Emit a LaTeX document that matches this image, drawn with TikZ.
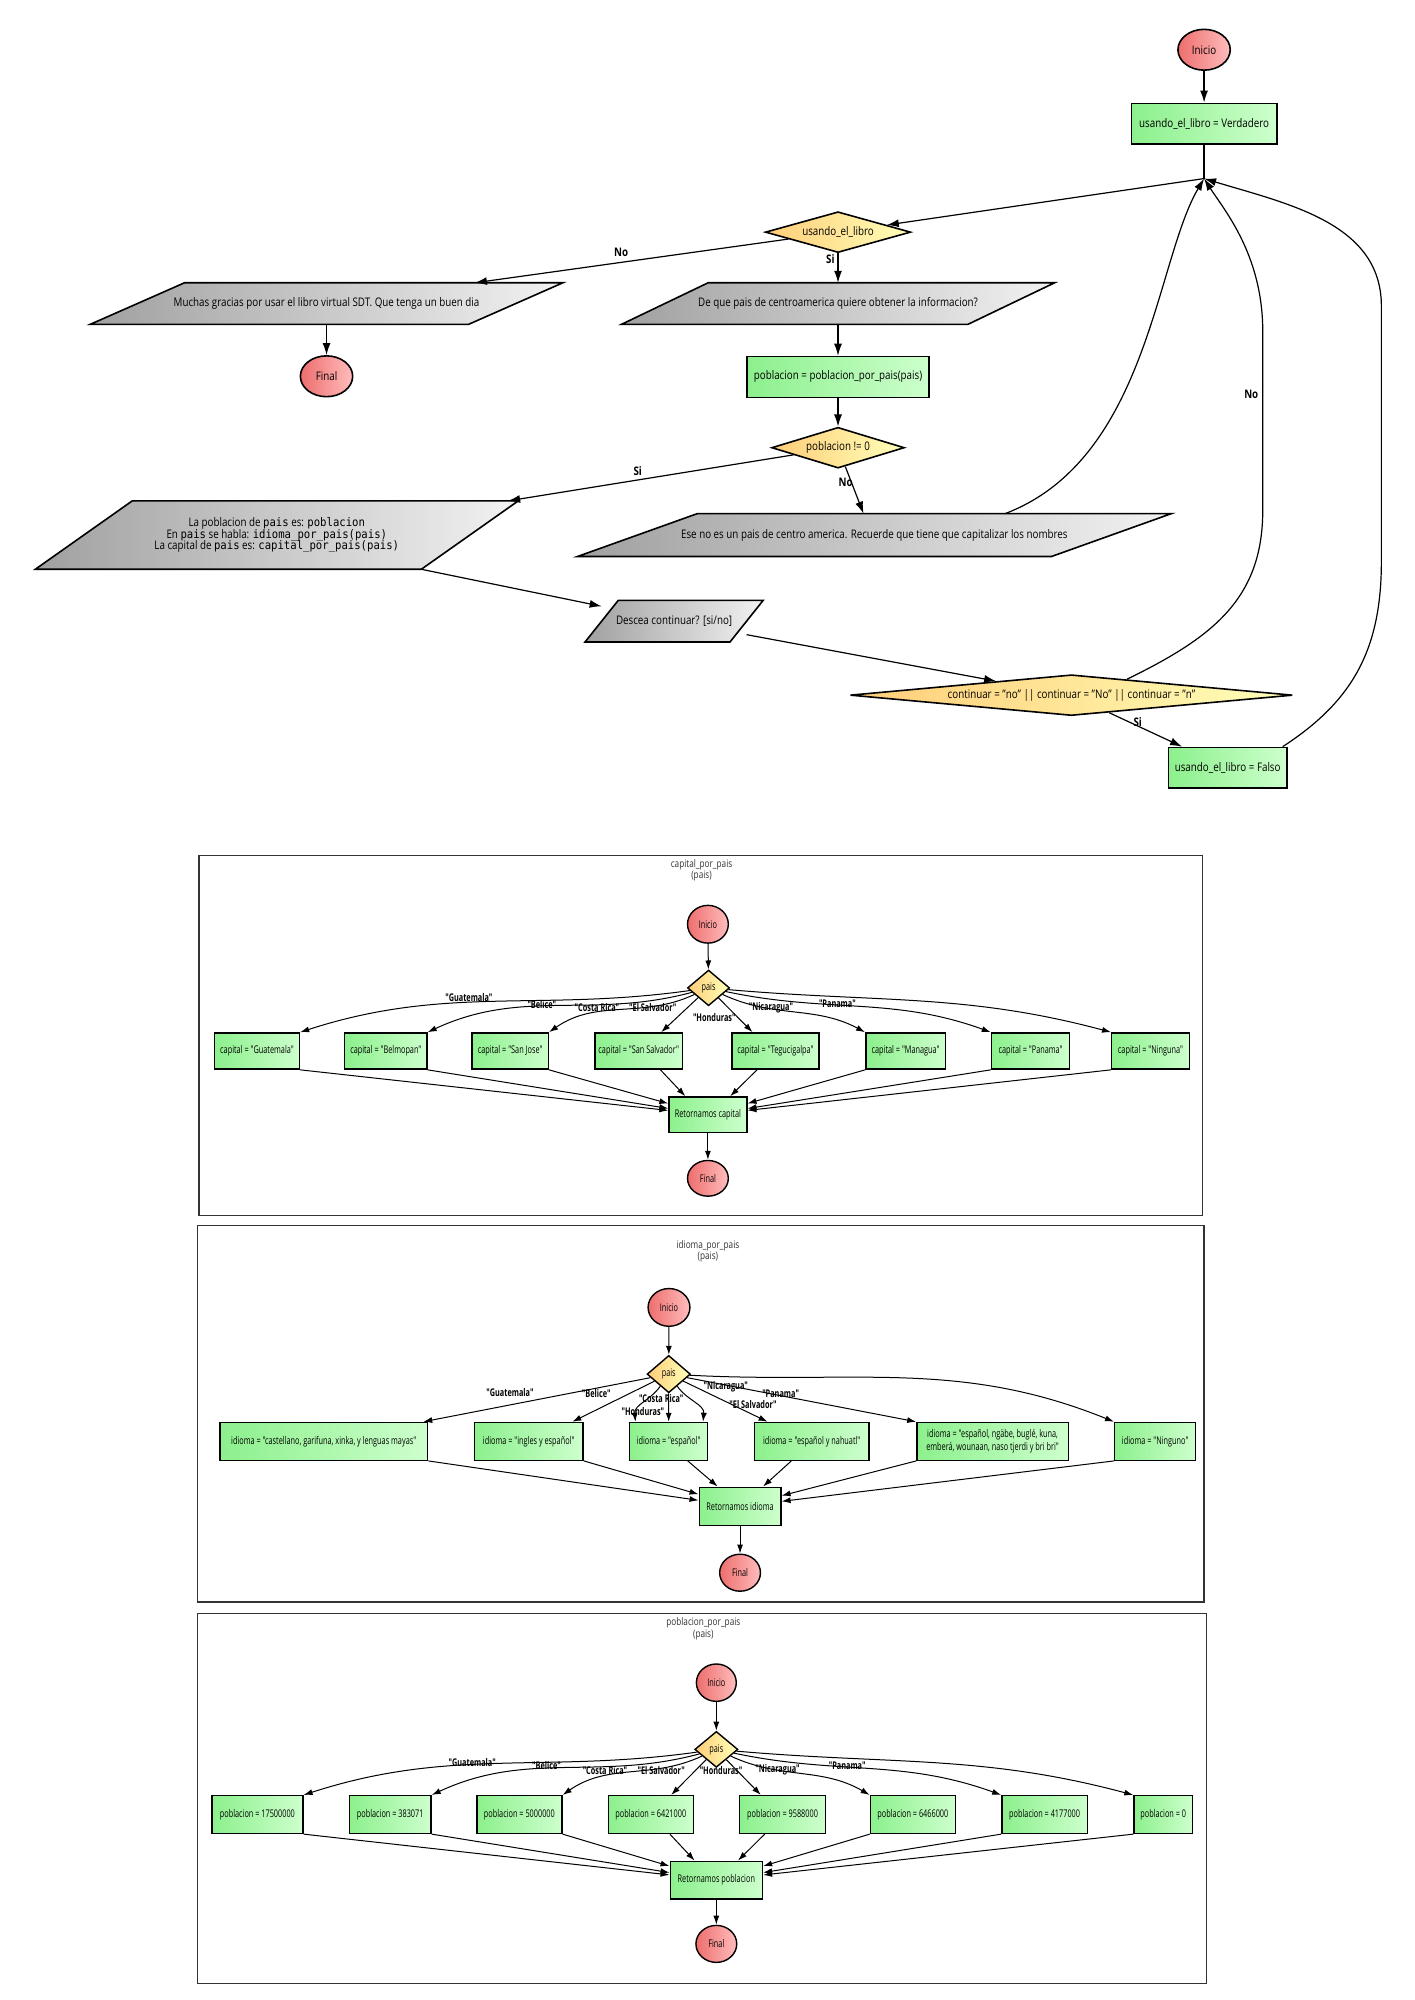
\documentclass[tikz,border=0pt]{standalone}
\usepackage{fontspec}
\setmainfont{Open Sans}[FakeStretch=0.83]
\newfontfamily\secf{Open Sans}[FakeStretch=0.69]
\newfontfamily\titf{Open Sans}[FakeStretch=0.79]
\newfontfamily\monof{DejaVu Sans Mono}[FakeStretch=0.9]
\usetikzlibrary{shapes.geometric,arrows.meta,calc}
\pgfdeclarelayer{bg}\pgfsetlayers{bg,main}
\definecolor{termL}{RGB}{238,110,110}
\definecolor{termR}{RGB}{255,188,188}
\definecolor{procL}{RGB}{140,240,140}
\definecolor{procR}{RGB}{205,255,205}
\definecolor{decL}{RGB}{255,205,120}
\definecolor{decR}{RGB}{255,255,185}
\definecolor{ioL}{RGB}{160,160,160}
\definecolor{ioR}{RGB}{242,242,242}
\newcommand{\uu}{0.6375pt}
\newcommand{\mainsz}{\fontsize{5.9pt}{5.6pt}\selectfont}
\newcommand{\secsz}{\secf\fontsize{5.3pt}{6.3pt}\selectfont}
\newcommand{\titsz}{\titf\fontsize{5.2pt}{5.7pt}\selectfont}
\newcommand{\iopoly}[2]{\begin{pgfonlayer}{bg}\shadedraw[left color=ioL,right color=ioR,draw=black,line width=0.8pt]
 ([xshift=-#2*\uu]#1.south west) -- ([xshift=-#2*\uu]#1.south east) -- ([xshift=#2*\uu]#1.north east) -- ([xshift=#2*\uu]#1.north west) -- cycle;\end{pgfonlayer}}
\tikzset{
 base/.style={draw=black,line width=0.8pt,inner sep=0pt,align=center},
 term/.style={base,ellipse,left color=termL,right color=termR},
 proc/.style={base,rectangle,left color=procL,right color=procR},
 dec/.style={base,diamond,left color=decL,right color=decR},
 io/.style={rectangle,inner sep=0pt,align=center},
 arr/.style={-{Latex[length=6pt,width=4pt]},line width=0.6pt},
 sarr/.style={-{Latex[length=4.5pt,width=3pt]},line width=0.5pt},
 mainf/.style={font=\mainsz},
 secn/.style={font=\secsz,line width=0.7pt},
 mlbl/.style={font=\mainsz\bfseries,inner sep=0pt},
 slbl/.style={font=\secsz\bfseries,inner sep=0pt},
 ttl/.style={font=\titsz,align=center,inner sep=0pt,text=black!80},
 frame/.style={draw=black!80,line width=0.6pt},
 sz/.style 2 args={minimum width=#1*\uu,minimum height=#2*\uu},
}
\begin{document}
\begin{tikzpicture}[x=0.6375pt,y=-0.6375pt]
\useasboundingbox (0,0) rectangle (1109,1568);
\begin{pgfonlayer}{bg}\fill[white] (0,0) rectangle (1109,1568);\end{pgfonlayer}

% ---------------- main flow ----------------
\node[term,mainf,sz={41}{32}] (ini) at (944,39) {Inicio};
\node[proc,mainf,sz={114}{32}] (v1) at (944,97) {usando\_el\_libro = Verdadero};
\coordinate (m) at (944,140);
\node[dec,mainf,aspect=3.5,sz={114}{32}] (d1) at (657,182) {usando\_el\_libro};
\node[io,mainf,sz={296}{32}] (gr) at (256,238) {Muchas gracias por usar el libro virtual SDT. Que tenga un buen dia};
\iopoly{gr}{37}
\node[term,mainf,sz={41}{32}] (fin) at (256,295) {Final};
\node[io,mainf,sz={271}{32}] (q) at (657,238) {De que pais de centroamerica quiere obtener la informacion?};
\iopoly{q}{34}
\node[proc,mainf,sz={143}{32}] (pb) at (657,295.5) {poblacion = poblacion\_por\_pais(pais)};
\node[dec,mainf,aspect=3.2,sz={104}{32}] (d2) at (657,351) {poblacion != 0};
\node[io,mainf,sz={302}{53}] (big) at (217,419.5) {La poblacion de {\monof pais} es: {\monof poblacion}\\[-1.3pt]En {\monof pais} se habla: {\monof idioma\_por\_pais(pais)}\\[-1.3pt]La capital de {\monof pais} es: {\monof capital\_por\_pais(pais)}};
\iopoly{big}{38}
\node[io,mainf,sz={371}{33}] (ese) at (685.5,419.5) {Ese no es un pais de centro america. Recuerde que tiene que capitalizar los nombres};
\iopoly{ese}{47}
\node[io,mainf,sz={113}{32}] (desc) at (528.5,487) {Descea continuar? [si/no]};
\iopoly{desc}{13}
\node[dec,mainf,aspect=10,sz={347}{32}] (d3) at (840,545) {continuar = "no" || continuar = "No" || continuar = "n"};
\node[proc,mainf,sz={93}{32}] (fa) at (962.5,602) {usando\_el\_libro = Falso};

\draw[arr] (ini) -- (v1);
\draw[line width=0.6pt] (v1) -- (m);
\draw[arr] (m) -- (d1);
\draw[arr] (d1) -- ([xshift=-32*\uu]gr.north east);
\node[mlbl] (lno1) at (487,198) {No};
\draw[arr] (d1) -- (q);
\node[mlbl] (lsi1) at (651,203) {Si};
\draw[arr] (gr) -- (fin);
\draw[arr] (q) -- (pb);
\draw[arr] (pb) -- (d2);
\draw[arr] (d2) -- ([xshift=30*\uu]big.north east);
\node[mlbl] (lsi2) at (500,369) {Si};
\draw[arr] (d2) -- ([xshift=-8.5*\uu]ese.north);
\node[mlbl] (lno2) at (663,378) {No};
\draw[arr] ([xshift=-38*\uu]big.south east) -- (desc);
\draw[arr] (desc) -- (d3);
\draw[arr] (d3) -- (fa);
\node[mlbl] (lsi3) at (892,566) {Si};
\draw[arr] ([xshift=102.5*\uu]ese.north) .. controls (900,360) and (906,204) .. (m);
\draw[arr] ($(d3.north)!0.25!(d3.east)$) .. controls (950,500) and (990,470) .. (990,400) -- (990,260) .. controls (990,200) and (960,165) .. (m);
\node[mlbl] (lno3) at (981,309) {No};
\draw[arr] ([xshift=-4*\uu]fa.north east) .. controls (1060,550) and (1083,510) .. (1083,440) -- (1083,240) .. controls (1083,175) and (1010,160) .. (m);

% ---------------- capital_por_pais ----------------
\draw[frame] (156,671) rectangle (943,953);
\node[ttl] (t1) at (550,682.5) {capital\_por\_pais\\(pais)};
\node[term,secn,sz={32}{29.6}] (i1) at (555,724.6) {Inicio};
\node[dec,secn,aspect=1.1,sz={33}{28}] (p1) at (555.5,774.5) {pais};
\node[proc,secn,sz={66.6}{28.4}] (c1) at (201.5,824) {capital = "Guatemala"};
\node[proc,secn,sz={64.4}{28.4}] (c2) at (302.5,824) {capital = "Belmopan"};
\node[proc,secn,sz={59.8}{28.4}] (c3) at (400,824) {capital = "San Jose"};
\node[proc,secn,sz={68.7}{28.4}] (c4) at (500.8,824) {capital = "San Salvador"};
\node[proc,secn,sz={68.4}{28.4}] (c5) at (608,824) {capital = "Tegucigalpa"};
\node[proc,secn,sz={62.4}{28.4}] (c6) at (710,824) {capital = "Managua"};
\node[proc,secn,sz={61.4}{28.4}] (c7) at (808,824) {capital = "Panama"};
\node[proc,secn,sz={60.8}{28.4}] (c8) at (902,824) {capital = "Ninguna"};
\node[proc,secn,sz={61}{28}] (r1) at (555,874) {Retornamos capital};
\node[term,secn,sz={32}{28}] (f1) at (555,923.8) {Final};

\draw[sarr] (i1) -- (p1);
\draw[sarr] (p1) to[out=188,in=18] (c1.north east);
\draw[sarr] (p1) to[out=195,in=25] (c2.north east);
\draw[sarr] (p1) to[out=205,in=35] (c3.north east);
\draw[sarr] (p1) -- ([xshift=17.6*\uu]c4.north);
\draw[sarr] (p1) -- ([xshift=-18*\uu]c5.north);
\draw[sarr] (p1) to[out=-25,in=152] (c6.north west);
\draw[sarr] (p1) to[out=-12,in=160] (c7.north west);
\draw[sarr] (p1) to[out=-5,in=165] (c8.north west);
\node[slbl] (g1) at (367.6,781.7) {"Guatemala"};
\node[slbl] (g2) at (424.8,787.5) {"Belice"};
\node[slbl] (g3) at (468,790) {"Costa Rica"};
\node[slbl] (g4) at (511.8,789.6) {"El Salvador"};
\node[slbl] (g5) at (560,797.4) {"Honduras"};
\node[slbl] (g6) at (604.4,790) {"Nicaragua"};
\node[slbl] (g7) at (656.5,787) {"Panama"};
\draw[sarr] (c1.south east) -- (r1);
\draw[sarr] (c2.south east) -- (r1);
\draw[sarr] (c3.south east) -- (r1);
\draw[sarr] ([xshift=17*\uu]c4.south) -- ([xshift=-17.7*\uu]r1.north);
\draw[sarr] ([xshift=-14.5*\uu]c5.south) -- ([xshift=17.5*\uu]r1.north);
\draw[sarr] (c6.south west) -- (r1);
\draw[sarr] (c7.south west) -- (r1);
\draw[sarr] (c8.south west) -- (r1);
\draw[sarr] (r1) -- (f1);

% ---------------- idioma_por_pais ----------------
\draw[frame] (155,961) rectangle (944,1256);
\node[ttl] (t2) at (555,981) {idioma\_por\_pais\\(pais)};
\node[term,secn,sz={32.8}{29.6}] (i2) at (524.5,1025) {Inicio};
\node[dec,secn,aspect=1.1,sz={34}{29.3}] (p2) at (524.3,1077.3) {pais};
\node[proc,secn,sz={162.9}{29.6}] (e1) at (253.8,1130) {idioma = "castellano, garifuna, xinka, y lenguas mayas"};
\node[proc,secn,sz={85.3}{29.6}] (e2) at (414.5,1130) {idioma = "ingles y español"};
\node[proc,secn,sz={61.4}{29.6}] (e3) at (524.2,1130) {idioma = "español"};
\node[proc,secn,sz={90}{29.6}] (e4) at (636.4,1130) {idioma = "español y nahuatl"};
\node[proc,secn,sz={118.7}{29.6}] (e5) at (778.2,1130) {idioma = "español, ngäbe, buglé, kuna,\\emberá, wounaan, naso tjerdi y bri bri"};
\node[proc,secn,sz={63.5}{29.6}] (e6) at (905.7,1130) {idioma = "Ninguno"};
\node[proc,secn,sz={64}{30}] (r2) at (580.2,1181) {Retornamos idioma};
\node[term,secn,sz={32}{29}] (f2) at (580.2,1233) {Final};

\draw[sarr] (i2) -- (p2);
\draw[sarr] (p2) -- ([xshift=-4*\uu]e1.north east);
\draw[sarr] (p2) -- ([xshift=-9*\uu]e2.north east);
\draw[sarr] (p2) -- (e3);
\draw[sarr] (p2) to[out=235,in=95] ([xshift=-26*\uu]e3.north);
\draw[sarr] (p2) to[out=-55,in=85] ([xshift=27*\uu]e3.north);
\draw[sarr] (p2) -- ([xshift=-34.6*\uu]e4.north);
\draw[sarr] (p2) -- (e5.north west);
\draw[sarr] (p2) to[out=-3,in=158] (e6.north west);
\node[slbl] (h1) at (399.8,1091.5) {"Guatemala"};
\node[slbl] (h2) at (467.5,1092.8) {"Belice"};
\node[slbl] (h3) at (518.4,1096.2) {"Costa Rica"};
\node[slbl] (h4) at (569,1087) {"Nicaragua"};
\node[slbl] (h5) at (612,1092.8) {"Panama"};
\node[slbl] (h6) at (590.4,1101.4) {"El Salvador"};
\node[slbl] (h7) at (504,1106.4) {"Honduras"};
\draw[sarr] (e1.south east) -- (r2);
\draw[sarr] (e2.south east) -- (r2);
\draw[sarr] ([xshift=15*\uu]e3.south) -- ([xshift=-17.5*\uu]r2.north);
\draw[sarr] ([xshift=-16*\uu]e4.south) -- ([xshift=18*\uu]r2.north);
\draw[sarr] (e5.south west) -- (r2);
\draw[sarr] (e6.south west) -- (r2);
\draw[sarr] (r2) -- (f2);

% ---------------- poblacion_por_pais ----------------
\draw[frame] (155,1265) rectangle (946,1555);
\node[ttl] (t3) at (551.4,1277) {poblacion\_por\_pais\\(pais)};
\node[term,secn,sz={31.3}{29.3}] (i3) at (561.6,1319.2) {Inicio};
\node[dec,secn,aspect=1.1,sz={33.8}{28.2}] (p3) at (561.6,1371.5) {pais};
\node[proc,secn,sz={71.3}{29.6}] (b1) at (201.8,1422.6) {poblacion = 17500000};
\node[proc,secn,sz={64}{29.6}] (b2) at (305.9,1422.6) {poblacion = 383071};
\node[proc,secn,sz={66.7}{29.6}] (b3) at (407.2,1422.6) {poblacion = 5000000};
\node[proc,secn,sz={66.6}{29.6}] (b4) at (510.2,1422.6) {poblacion = 6421000};
\node[proc,secn,sz={67.1}{29.6}] (b5) at (613.5,1422.6) {poblacion = 9588000};
\node[proc,secn,sz={66.6}{29.6}] (b6) at (715.7,1422.6) {poblacion = 6466000};
\node[proc,secn,sz={67.1}{29.6}] (b7) at (819,1422.6) {poblacion = 4177000};
\node[proc,secn,sz={45.9}{29.6}] (b8) at (912,1422.6) {poblacion = 0};
\node[proc,secn,sz={72.3}{29.5}] (r3) at (561.6,1474) {Retornamos poblacion};
\node[term,secn,sz={32}{29}] (f3) at (561.6,1524) {Final};

\draw[sarr] (i3) -- (p3);
\draw[sarr] (p3) to[out=188,in=18] (b1.north east);
\draw[sarr] (p3) to[out=195,in=25] (b2.north east);
\draw[sarr] (p3) to[out=205,in=35] (b3.north east);
\draw[sarr] (p3) -- ([xshift=16*\uu]b4.north);
\draw[sarr] (p3) -- ([xshift=-17*\uu]b5.north);
\draw[sarr] (p3) to[out=-25,in=150] (b6.north west);
\draw[sarr] (p3) to[out=-12,in=160] (b7.north west);
\draw[sarr] (p3) to[out=-5,in=165] (b8.north west);
\node[slbl] (k1) at (370.2,1381.7) {"Guatemala"};
\node[slbl] (k2) at (428.5,1384.3) {"Belice"};
\node[slbl] (k3) at (474.3,1387.7) {"Costa Rica"};
\node[slbl] (k4) at (518.4,1387.7) {"El Salvador"};
\node[slbl] (k5) at (565.3,1387.7) {"Honduras"};
\node[slbl] (k6) at (609.6,1387.7) {"Nicaragua"};
\node[slbl] (k7) at (664.2,1384.3) {"Panama"};
\draw[sarr] (b1.south east) -- (r3);
\draw[sarr] (b2.south east) -- (r3);
\draw[sarr] (b3.south east) -- (r3);
\draw[sarr] ([xshift=15*\uu]b4.south) -- ([xshift=-17*\uu]r3.north);
\draw[sarr] ([xshift=-14*\uu]b5.south) -- ([xshift=17*\uu]r3.north);
\draw[sarr] (b6.south west) -- (r3);
\draw[sarr] (b7.south west) -- (r3);
\draw[sarr] (b8.south west) -- (r3);
\draw[sarr] (r3) -- (f3);
\end{tikzpicture}
\end{document}
